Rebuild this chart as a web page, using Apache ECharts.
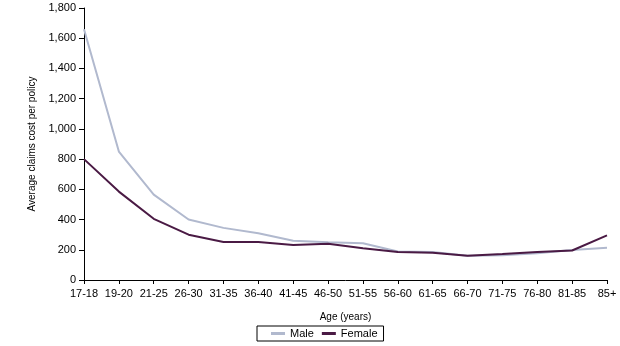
<!DOCTYPE html>
<html><head><meta charset="utf-8">
<script src="https://cdn.jsdelivr.net/npm/echarts@6/dist/echarts.min.js"></script>
<style>html,body{margin:0;padding:0;background:#fff}#c{width:620px;height:346px}</style>
</head><body><div id="c"></div>
<script>
var categories = ['17-18','19-20','21-25','26-30','31-35','36-40','41-45','46-50','51-55','56-60','61-65','66-70','71-75','76-80','81-85','85+'];
var male = [1660, 850, 565, 400, 345, 310, 260, 250, 243, 188, 185, 160, 163, 177, 198, 214];
var female = [800, 585, 405, 300, 252, 252, 232, 240, 210, 185, 180, 160, 172, 186, 195, 295];
var yTicks = [0, 1800, 200];
var chart = echarts.init(document.getElementById('c'));
var font = 'Liberation Sans, Arial, sans-serif';
chart.setOption({
  animation: false,
  textStyle: {fontFamily: font},
  grid: {left: 84, right: 13, top: 8, bottom: 66},
  legend: {
    data: ['Male', 'Female'], top: 326, left: 257,
    itemWidth: 14, itemHeight: 3, itemGap: 8, icon: 'rect',
    borderColor: '#000', borderWidth: 1, padding: [2, 6, 2, 14],
    textStyle: {fontSize: 11, color: '#000', fontFamily: font}
  },
  xAxis: {
    type: 'category', data: categories, boundaryGap: false,
    name: 'Age (years)', nameLocation: 'middle', nameGap: 32,
    nameTextStyle: {fontSize: 10, color: '#000'},
    axisLine: {lineStyle: {color: '#000'}},
    axisTick: {show: true, alignWithLabel: true, length: 4, lineStyle: {color: '#000'}},
    axisLabel: {fontSize: 11, color: '#000', interval: 0, margin: 8},
    splitLine: {show: false}
  },
  yAxis: {
    type: 'value', min: yTicks[0], max: yTicks[1], interval: yTicks[2],
    name: 'Average claims cost per policy', nameLocation: 'middle', nameGap: 44,
    nameTextStyle: {fontSize: 10, color: '#000'},
    axisLine: {show: true, lineStyle: {color: '#000'}},
    axisTick: {show: true, length: 5, lineStyle: {color: '#000'}},
    axisLabel: {fontSize: 11, color: '#000', margin: 8,
      formatter: function(v){ return v.toLocaleString('en-US'); }},
    splitLine: {show: false}
  },
  series: [
    {name: 'Male', type: 'line', data: male, symbol: 'none',
     lineStyle: {color: '#B1B9CE', width: 2}, itemStyle: {color: '#B1B9CE'}},
    {name: 'Female', type: 'line', data: female, symbol: 'none',
     lineStyle: {color: '#4A1A44', width: 2}, itemStyle: {color: '#4A1A44'}}
  ]
});
</script></body></html>
